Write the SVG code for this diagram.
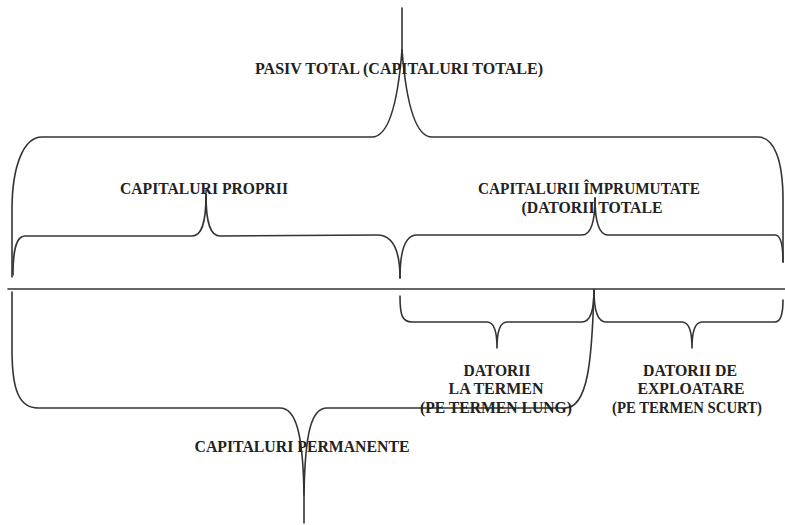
<svg xmlns="http://www.w3.org/2000/svg" width="785" height="525" viewBox="0 0 785 525">
<style>
.c{fill:none;stroke:#333;stroke-width:1.6;stroke-linecap:round;stroke-linejoin:round}
.t{font-family:"Liberation Serif","Times New Roman",serif;font-weight:bold;font-size:17px;fill:#222;text-anchor:middle}
</style>
<rect width="785" height="525" fill="#fff"/>
<g id="connectors">
<path class="c" d="M8,289 L785,289"/>
<path class="c" d="M402,8 L402,60"/>
<path class="c" d="M12,277 L12,210 C12,165 24,137 42,137 L372,137 C382,137 396,125 402,50"/>
<path class="c" d="M402,50 C408,125 422,137 432,137 L758,137 C774,137 783,160 783,200 L783,262"/>
<path class="c" d="M206,190 L206,206"/>
<path class="c" d="M13,275 C13,250 16,236 25,236 L192,236 C201,236 206,225 206,195"/>
<path class="c" d="M206,195 C206,225 211,236 220,236 L377,235 C392,235 400,250 400,278"/>
<path class="c" d="M400,278 C400,250 405,235 417,235 L582,235 C590,235 595,225 595,198"/>
<path class="c" d="M595,198 C595,225 600,235 608,235 L775,235 C781,235 783,245 783,262"/>
<path class="c" d="M400,296 C400,315 402,322 412,322 L487,322 C493,322 497,330 497,348 C497,330 501,322 507,322 L582,322 C590,322 594,312 594,290"/>
<path class="c" d="M594,290 C594,312 598,322 606,322 L682,322 C688,322 692,330 692,348 C692,330 696,322 702,322 L775,322 C780,322 783,315 783,300"/>
<path class="c" d="M12,292 L12,350 C12,392 20,408 38,408 L280,408 C295,408 303,430 304,495 L304,523"/>
<path class="c" d="M304,495 C305,430 312,408 327,408 L565,408 C588,408 592,360 594,290"/>
</g>
<g id="pasiv-total"><text class="t" x="399" y="74" textLength="288" lengthAdjust="spacingAndGlyphs">PASIV TOTAL (CAPITALURI TOTALE)</text></g>
<g id="capitaluri-proprii"><text class="t" x="204" y="194" textLength="168" lengthAdjust="spacingAndGlyphs">CAPITALURI PROPRII</text></g>
<g id="capitaluri-imprumutate">
<text class="t" x="589" y="194" textLength="222" lengthAdjust="spacingAndGlyphs">CAPITALURII ÎMPRUMUTATE</text>
<text class="t" x="592" y="213" textLength="141" lengthAdjust="spacingAndGlyphs" style="font-size:16px">(DATORII TOTALE</text>
</g>
<g id="datorii-la-termen">
<text class="t" x="497" y="376" textLength="67" lengthAdjust="spacingAndGlyphs">DATORII</text>
<text class="t" x="496" y="394" textLength="95" lengthAdjust="spacingAndGlyphs">LA TERMEN</text>
<text class="t" x="496" y="413" textLength="152" lengthAdjust="spacingAndGlyphs">(PE TERMEN LUNG)</text>
</g>
<g id="datorii-de-exploatare">
<text class="t" x="690" y="376" textLength="94" lengthAdjust="spacingAndGlyphs">DATORII DE</text>
<text class="t" x="691" y="394" textLength="107" lengthAdjust="spacingAndGlyphs">EXPLOATARE</text>
<text class="t" x="687" y="413" textLength="150" lengthAdjust="spacingAndGlyphs">(PE TERMEN SCURT)</text>
</g>
<g id="capitaluri-permanente"><text class="t" x="302" y="452" textLength="215" lengthAdjust="spacingAndGlyphs">CAPITALURI PERMANENTE</text></g>
</svg>
